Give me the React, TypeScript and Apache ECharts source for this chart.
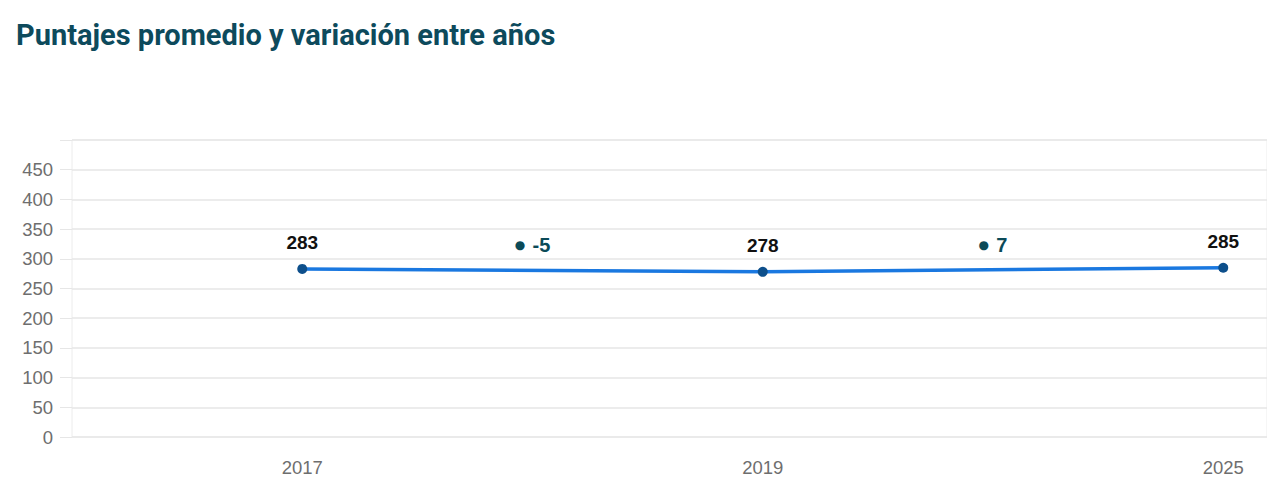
import React, { useEffect, useRef } from "react";
import * as echarts from "echarts";

const TITLE = "Puntajes promedio y variación entre años";
const years = ["2017", "2019", "2025"];
const scores = [283, 278, 285];
const variations = [-5, 7];
const yTicks = [0, 50, 100, 150, 200, 250, 300, 350, 400, 450];
const VARIATION_LEVEL = 323;

export default function App() {
  const ref = useRef<HTMLDivElement>(null);
  useEffect(() => {
    document.body.style.margin = "0";
    const chart = echarts.init(ref.current!, null, { renderer: "svg" });
    const scoreData = scores.map((v, i) => [1 + 2 * i, v]);
    const varData = variations.map((v, i) => ({ value: [2 + 2 * i, VARIATION_LEVEL], delta: v }));
    const yearAt: Record<number, string> = {};
    years.forEach((y, i) => (yearAt[1 + 2 * i] = y));
    chart.setOption({
      animation: false,
      backgroundColor: "#ffffff",
      title: {
        text: TITLE,
        left: 11,
        top: 15,
        textStyle: { fontFamily: "Roboto", fontWeight: "bold", fontSize: 29, color: "#0d4a5c" },
      },
      grid: { left: 72, right: 0, top: 140, bottom: 50, show: true, borderColor: "#ececec", borderWidth: 1 },
      xAxis: {
        type: "value",
        min: 0,
        max: 5.19,
        interval: 1,
        splitLine: { show: false },
        axisLine: { show: false },
        axisTick: { show: false },
        axisLabel: {
          margin: 21,
          color: "#6e6e6e",
          fontFamily: "Arial, Liberation Sans",
          fontSize: 18.5,
          formatter: (v: number) => yearAt[Math.round(v)] ?? "",
          showMaxLabel: false,
        },
      },
      yAxis: {
        type: "value",
        min: 0,
        max: 500,
        interval: 50,
        axisLine: { show: false },
        axisTick: { show: true, length: 12, lineStyle: { color: "#e6e6e6" } },
        splitLine: { lineStyle: { color: "#e6e6e6", width: 1.5 } },
        axisLabel: {
          margin: 19,
          color: "#6e6e6e",
          fontFamily: "Arial, Liberation Sans",
          fontSize: 18.5,
          formatter: (v: number) => (yTicks.includes(v) ? String(v) : ""),
        },
      },
      series: [
        {
          type: "line",
          data: scoreData,
          symbol: "circle",
          symbolSize: 10,
          lineStyle: { color: "#1a78e0", width: 3.5 },
          itemStyle: { color: "#0d4f8b" },
          label: {
            show: true,
            position: "top",
            distance: 12,
            color: "#111",
            fontWeight: "bold",
            fontFamily: "Arial, Liberation Sans",
            fontSize: 19,
            formatter: (p: any) => String(p.value[1]),
          },
          z: 3,
        },
        {
          type: "scatter",
          data: varData,
          symbol: "circle",
          symbolSize: 1,
          itemStyle: { color: "rgba(0,0,0,0)", opacity: 1 },
          label: {
            show: true,
            position: "inside",
            formatter: (p: any) => `{dot|●} {val|${p.data.delta}}`,
            rich: {
              dot: { color: "#0b4a58", fontSize: 12, fontFamily: "DejaVu Sans", padding: [0, 4, 0, 0] },
              val: { color: "#0b4a58", fontSize: 20, fontWeight: "bold", fontFamily: "Arial, Liberation Sans" },
            },
          },
        },
      ],
    });
    return () => chart.dispose();
  }, []);
  return <div ref={ref} style={{ width: 1267, height: 487 }} />;
}
